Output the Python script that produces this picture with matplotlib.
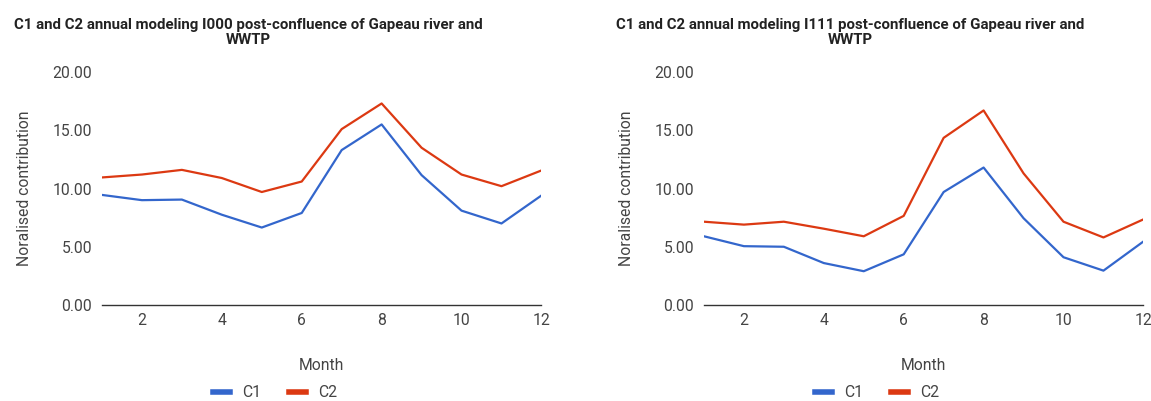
import matplotlib.pyplot as plt
import numpy as np

plt.rcParams['font.family'] = ['Roboto', 'DejaVu Sans']

months = [1, 2, 3, 4, 5, 6, 7, 8, 9, 10, 11, 12]
month_ticks = [2, 4, 6, 8, 10, 12]
y_ticks = [0, 5, 10, 15, 20]

# I000 post-confluence
c1_i000 = [9.45, 9.0, 9.05, 7.75, 6.65, 7.9, 13.3, 15.5, 11.15, 8.1, 7.0, 9.4]
c2_i000 = [10.95, 11.2, 11.6, 10.9, 9.7, 10.6, 15.1, 17.3, 13.5, 11.2, 10.2, 11.55]

# I111 post-confluence
c1_i111 = [5.9, 5.05, 5.0, 3.6, 2.9, 4.35, 9.7, 11.8, 7.45, 4.1, 2.95, 5.45]
c2_i111 = [7.15, 6.9, 7.15, 6.55, 5.9, 7.65, 14.35, 16.7, 11.3, 7.15, 5.8, 7.35]

titles = ['C1 and C2 annual modeling I000 post-confluence of Gapeau river and\nWWTP',
          'C1 and C2 annual modeling I111 post-confluence of Gapeau river and\nWWTP']

BLUE = '#3366cc'
RED = '#dc3912'
TXT = '#444444'
FS = 11.3

fig = plt.figure(figsize=(11.51, 4.01), dpi=100)

panels = [
    (0.0886, c1_i000, c2_i000, titles[0], 248 / 1151),
    (0.6116, c1_i111, c2_i111, titles[1], 850 / 1151),
]

for left, c1, c2, title, tx in panels:
    ax = fig.add_axes([left, 0.2394, 0.3818, 0.581])
    ax.plot(months, c1, color=BLUE, lw=1.6, label='C1', solid_joinstyle='round')
    ax.plot(months, c2, color=RED, lw=1.6, label='C2', solid_joinstyle='round')
    ax.set_xlim(1, 12)
    ax.set_ylim(0, 20)
    ax.set_xticks(month_ticks)
    ax.set_yticks(y_ticks)
    ax.set_yticklabels([f'{v:.2f}' for v in y_ticks])
    ax.tick_params(length=0, labelsize=FS, colors=TXT)
    ax.tick_params(axis='y', pad=7)
    ax.tick_params(axis='x', pad=6)
    for s in ['top', 'right', 'left']:
        ax.spines[s].set_visible(False)
    ax.spines['bottom'].set_color('#333333')
    ax.spines['bottom'].set_linewidth(1.0)
    ax.set_xlabel('Month', fontsize=FS, color=TXT, labelpad=21)
    ax.set_ylabel('Noralised contribution', fontsize=FS, color=TXT, labelpad=15)
    fig.text(tx, 1 - 18 / 401, title, ha='center', va='top', fontsize=10.8,
             fontweight='bold', color='#222222', linespacing=1.1)
    ax.legend(loc='center', bbox_to_anchor=(0.394, -88 / 233), ncol=2,
              frameon=False, fontsize=FS, labelcolor=TXT, handlelength=1.1,
              handleheight=0.5, columnspacing=1.8, handletextpad=0.75)
    for line in ax.get_legend().get_lines():
        line.set_linewidth(4)

plt.savefig('out.png', dpi=100)
plt.close()
